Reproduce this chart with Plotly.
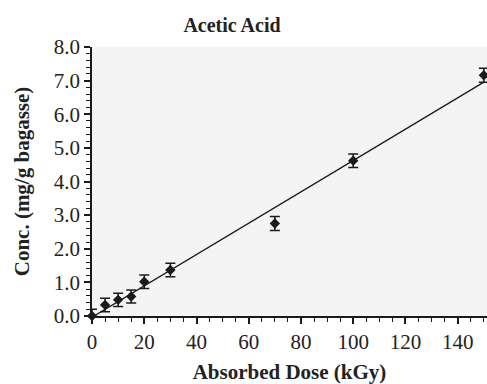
import numpy as np
import plotly.graph_objects as go

dose = [0, 5, 10, 15, 20, 30, 70, 100, 150]
conc = [0.0, 0.33, 0.48, 0.58, 1.02, 1.37, 2.75, 4.62, 7.16]
err = [0.2, 0.2, 0.2, 0.19, 0.2, 0.2, 0.21, 0.2, 0.21]
fit_x = [0, 150]

slope, intercept = np.polyfit(dose, conc, 1)
fit_y = [slope * v + intercept for v in fit_x]

fig = go.Figure()
fig.add_trace(go.Scatter(x=fit_x, y=fit_y, mode="lines",
                         line=dict(color="#1a1a1a", width=1.3),
                         showlegend=False, hoverinfo="skip"))
fig.add_trace(go.Scatter(x=dose, y=conc, mode="markers",
                         marker=dict(symbol="diamond", size=8, color="#1a1a1a"),
                         error_y=dict(type="data", array=err, visible=True,
                                      color="#1a1a1a", thickness=1.5, width=5),
                         showlegend=False, cliponaxis=False))

font = "Liberation Serif, Times New Roman, serif"
fig.update_layout(
    width=487, height=384,
    margin=dict(l=92, r=0, t=47, b=68),
    paper_bgcolor="white", plot_bgcolor="#f4f4f4",
    font=dict(family=font, color="#222", size=21),
    title=dict(text="<b>Acetic Acid</b>", x=232/487, xanchor="center",
               y=1-25/384, yanchor="middle", font=dict(size=20, family=font, color="#222")),
)
fig.update_xaxes(range=[0, 151.2], tickmode="linear", tick0=0, dtick=20,
                 ticks="outside", ticklen=6, tickwidth=1.5, tickcolor="#1a1a1a",
                 showline=True, linecolor="#1a1a1a", linewidth=1.5,
                 showgrid=False, zeroline=False,
                 minor=dict(dtick=5, ticks="outside", ticklen=4, tickwidth=1.3, tickcolor="#1a1a1a"),
                 tickfont=dict(size=21, family=font, color="#222"),
                 title=dict(text="<b>Absorbed Dose (kGy)</b>", standoff=11,
                            font=dict(size=21, family=font, color="#222")))
fig.update_yaxes(range=[0, 8], tickmode="linear", tick0=0, dtick=1, tickformat=".1f",
                 ticks="outside", ticklen=6, tickwidth=1.5, tickcolor="#1a1a1a",
                 showline=True, linecolor="#1a1a1a", linewidth=1.5,
                 showgrid=False, zeroline=False,
                 minor=dict(dtick=0.2, ticks="outside", ticklen=4, tickwidth=1.3, tickcolor="#1a1a1a"),
                 tickfont=dict(size=21, family=font, color="#222"),
                 title=dict(text="<b>Conc. (mg/g bagasse)</b>", standoff=18,
                            font=dict(size=21, family=font, color="#222")))

fig.write_html("out.html")
